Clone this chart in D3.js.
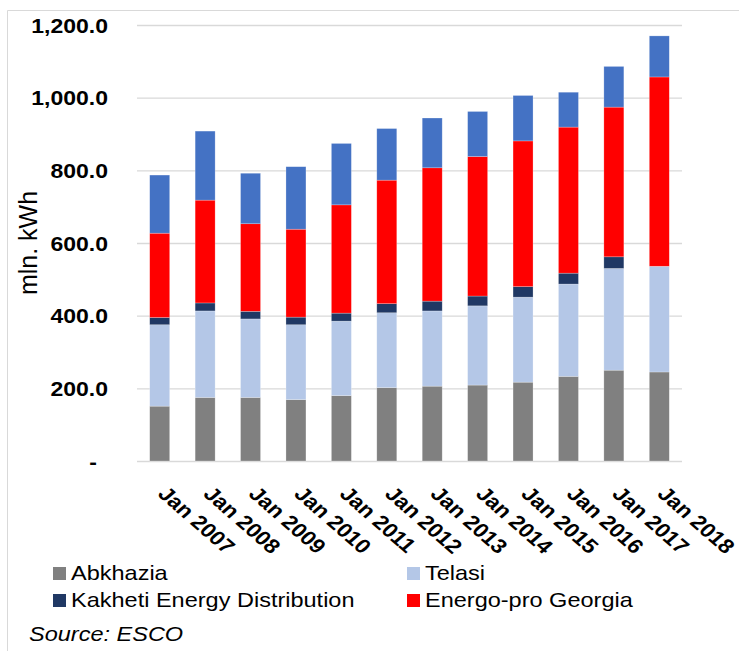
<!DOCTYPE html>
<html>
<head>
<meta charset="utf-8">
<script src="https://cdn.jsdelivr.net/npm/d3@7"></script>
<style>
  body { margin: 0; background: #fff; }
  svg { display: block; font-family: "Liberation Sans", Arial, sans-serif; }
</style>
</head>
<body>
<svg id="chart" width="739" height="651"></svg>
<script>
const years = ['Jan 2007', 'Jan 2008', 'Jan 2009', 'Jan 2010', 'Jan 2011', 'Jan 2012',
    'Jan 2013', 'Jan 2014', 'Jan 2015', 'Jan 2016', 'Jan 2017', 'Jan 2018'];
const abkhazia = [151, 175, 175, 169, 180, 202, 206, 209, 217, 233, 250, 245];
const telasi = [224, 238, 216, 206, 205, 206, 207, 218, 234, 254, 280, 291];
const kakheti = [20, 22, 21, 21, 22, 25, 27, 27, 29, 30, 32, 0];
const energoPro = [232, 283, 241, 242, 298, 340, 367, 384, 401, 402, 412, 521];
const others = [160, 190, 139, 172, 169, 142, 137, 124, 125, 96, 112, 113];
const yTicks = [0, 200, 400, 600, 800, 1000, 1200];

const seriesKeys = ['Abkhazia', 'Telasi', 'Kakheti Energy Distribution', 'Energo-pro Georgia', 'other'];
const seriesValues = [abkhazia, telasi, kakheti, energoPro, others];
const color = d3.scaleOrdinal(seriesKeys, ['#808080', '#b4c7e7', '#203864', '#ff0000', '#4472c4']);

// the source picture is a bit wider than tall, stretch text to match
const sx = 1.15;

const svg = d3.select('#chart');
const plotLeft = 137;
const plotRight = 682;
const plotTop = 25;
const plotBottom = 461;

// light frame, cut by the picture edges
svg.append('path')
    .attr('d', 'M7.5,651V10.5H739')
    .attr('fill', 'none')
    .attr('stroke', '#d9d9d9')
    .attr('stroke-width', 1);

const table = years.map((yr, i) => {
    const row = { year: yr };
    seriesKeys.forEach((k, j) => { row[k] = seriesValues[j][i]; });
    return row;
});
const stacked = d3.stack().keys(seriesKeys)(table);

const x = d3.scaleBand()
    .domain(years)
    .range([plotLeft, plotRight])
    .paddingInner(0.56)
    .paddingOuter(0.28);

const y = d3.scaleLinear().domain([0, 1200]).range([plotBottom, plotTop]);

const yAxis = svg.append('g')
    .attr('transform', `translate(${plotLeft},0)`)
    .call(d3.axisLeft(y)
        .tickValues(yTicks)
        .tickSize(-(plotRight - plotLeft))
        .tickFormat((d) => (d === 0 ? '-' : d3.format(',.1f')(d))));
yAxis.select('.domain').remove();
yAxis.selectAll('.tick line')
    .attr('stroke', '#d9d9d9')
    .attr('stroke-width', 1.4);
yAxis.selectAll('.tick text')
    .attr('x', 0)
    .attr('dy', '0.35em')
    .attr('text-anchor', 'end')
    .attr('transform', (d) => `translate(${d === 0 ? -40 : -29},0) scale(${sx},1)`)
    .style('font-size', '20px')
    .style('font-weight', 'bold')
    .attr('fill', '#000');

svg.append('g')
    .selectAll('g')
    .data(stacked)
    .join('g')
    .attr('fill', (d) => color(d.key))
    .selectAll('rect')
    .data((d) => d)
    .join('rect')
    .attr('x', (d) => x(d.data.year))
    .attr('y', (d) => y(d[1]))
    .attr('width', x.bandwidth())
    .attr('height', (d) => y(d[0]) - y(d[1]))
    .attr('stroke', '#fff')
    .attr('stroke-opacity', 0.4)
    .attr('stroke-width', 0.6);

const xAxis = svg.append('g')
    .attr('transform', `translate(0,${plotBottom})`)
    .call(d3.axisBottom(x).tickSize(0));
xAxis.select('.domain').remove();
xAxis.selectAll('.tick text')
    .attr('x', 0)
    .attr('y', 0)
    .attr('dy', 0)
    .attr('text-anchor', 'start')
    .attr('transform', `translate(-3,34) scale(${sx},1) rotate(45)`)
    .style('font-size', '20px')
    .style('font-weight', 'bold')
    .attr('fill', '#000');

svg.append('text')
    .attr('transform', 'translate(37,243) rotate(-90)')
    .attr('text-anchor', 'middle')
    .style('font-size', '25px')
    .text('mln. kWh');

const legendItems = [
    { key: 'Abkhazia', x: 53, y: 580 },
    { key: 'Telasi', x: 407, y: 580 },
    { key: 'Kakheti Energy Distribution', x: 53, y: 607 },
    { key: 'Energo-pro Georgia', x: 407, y: 607 },
];

const legend = svg.append('g')
    .selectAll('g')
    .data(legendItems)
    .join('g')
    .attr('transform', (d) => `translate(${d.x},${d.y})`);
legend.append('rect')
    .attr('y', -13)
    .attr('width', 13)
    .attr('height', 13)
    .attr('fill', (d) => color(d.key));
legend.append('text')
    .attr('transform', 'translate(18,0) scale(1.12,1)')
    .style('font-size', '21px')
    .text((d) => d.key);

svg.append('text')
    .attr('transform', 'translate(29,641) scale(1.12,1)')
    .style('font-size', '21px')
    .style('font-style', 'italic')
    .text('Source: ESCO');
</script>
</body>
</html>
